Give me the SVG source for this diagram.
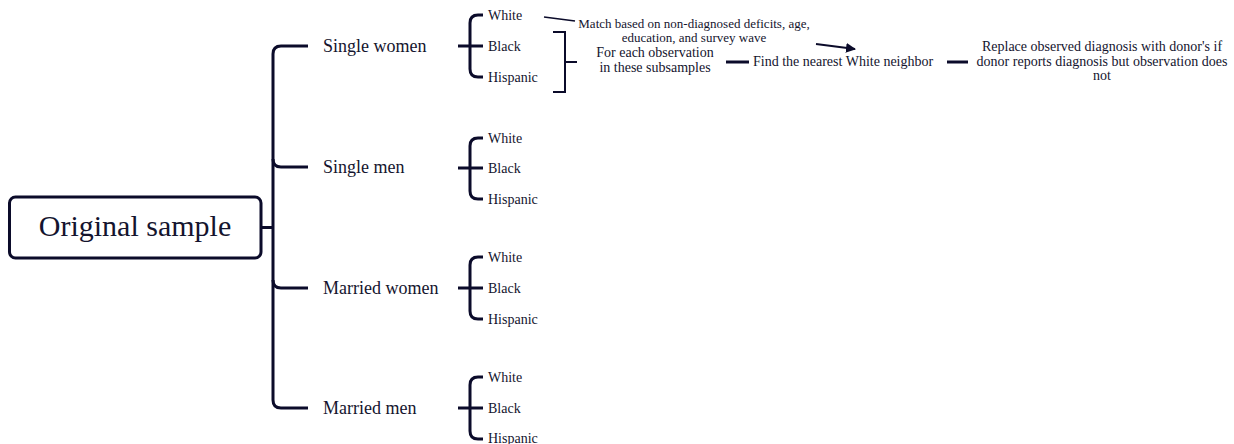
<svg xmlns="http://www.w3.org/2000/svg" width="1234" height="444" viewBox="0 0 1234 444">
<defs>
<style>
text{font-family:"Liberation Serif","DejaVu Serif",serif;fill:#14142e}
.l{fill:none;stroke:#0b0b2a;stroke-width:3}
.t{fill:none;stroke:#0b0b2a;stroke-width:2}
.h{fill:none;stroke:#0b0b2a;stroke-width:1.5}
.m{font-size:18px}
.s{font-size:14px}
.c{font-size:13px;text-anchor:middle}
.d{font-size:14px;text-anchor:middle}
</style>
<marker id="ah" viewBox="0 0 10 10" refX="9" refY="5" markerWidth="5" markerHeight="5" orient="auto">
<path d="M0,0 L10,5 L0,10 z" fill="#0b0b2a"/>
</marker>
</defs>
<g id="connectors">
<path class="l" d="M261,227.5 H273"/>
<path class="l" d="M308,46 H281 Q273,46 273,54 V400 Q273,408 281,408 H308"/>
<path class="l" d="M273,159 Q273,167 281,167 H308"/>
<path class="l" d="M273,280 Q273,288 281,288 H308"/>
<path class="l" d="M458,46 H483 M483,15 H478 Q470,15 470,23 V69 Q470,77 478,77 H483"/>
<path class="l" d="M458,168 H483 M483,138 H478 Q470,138 470,146 V191 Q470,199 478,199 H483"/>
<path class="l" d="M458,288 H483 M483,257 H478 Q470,257 470,265 V311 Q470,319 478,319 H483"/>
<path class="l" d="M458,408 H483 M483,377 H478 Q470,377 470,385 V431 Q470,439 478,439 H483"/>
<path class="t" d="M553,32 H565 V92 H553 M565,62 H577"/>
<path class="h" d="M544,17 L575,21"/>
<path class="t" d="M816,44 L855,49" marker-end="url(#ah)"/>
<path class="l" d="M726,62 H749"/>
<path class="l" d="M947,62 H968"/>
</g>
<g id="n-original">
<rect x="9.5" y="197" width="251.5" height="61" rx="6" fill="#fff" stroke="#0b0b2a" stroke-width="3"/>
<text x="135" y="236" font-size="30" text-anchor="middle">Original sample</text>
</g>
<g id="n-single-women"><text class="m" x="323" y="52">Single women</text></g>
<g id="n-single-men"><text class="m" x="323" y="173">Single men</text></g>
<g id="n-married-women"><text class="m" x="323" y="294">Married women</text></g>
<g id="n-married-men"><text class="m" x="323" y="414">Married men</text></g>
<g id="n-sw-race">
<text class="s" x="488" y="19.5">White</text>
<text class="s" x="488" y="50.5">Black</text>
<text class="s" x="488" y="81.5">Hispanic</text>
</g>
<g id="n-sm-race">
<text class="s" x="488" y="142.5">White</text>
<text class="s" x="488" y="172.5">Black</text>
<text class="s" x="488" y="203.5">Hispanic</text>
</g>
<g id="n-mw-race">
<text class="s" x="488" y="261.5">White</text>
<text class="s" x="488" y="292.5">Black</text>
<text class="s" x="488" y="323.5">Hispanic</text>
</g>
<g id="n-mm-race">
<text class="s" x="488" y="381.5">White</text>
<text class="s" x="488" y="412.5">Black</text>
<text class="s" x="488" y="443">Hispanic</text>
</g>
<g id="n-match">
<text class="c" x="694" y="28">Match based on non-diagnosed deficits, age,</text>
<text class="c" x="694" y="42">education, and survey wave</text>
</g>
<g id="n-each">
<text class="d" x="655" y="57">For each observation</text>
<text class="d" x="655" y="72">in these subsamples</text>
</g>
<g id="n-find"><text class="s" x="753" y="66">Find the nearest White neighbor</text></g>
<g id="n-replace">
<text class="d" x="1102" y="51">Replace observed diagnosis with donor's if</text>
<text class="d" x="1102" y="65.5">donor reports diagnosis but observation does</text>
<text class="d" x="1102" y="80">not</text>
</g>
</svg>
